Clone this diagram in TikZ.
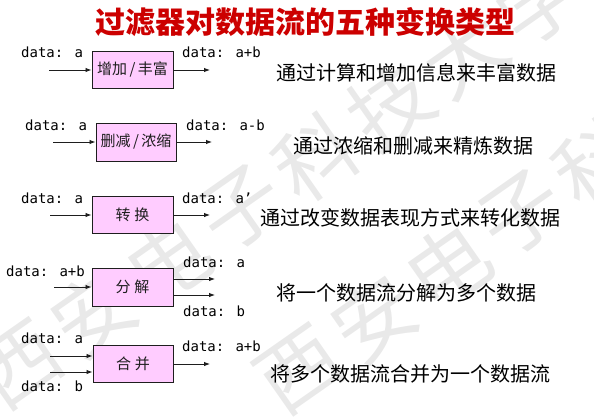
\documentclass[tikz,border=0pt]{standalone}
\usepackage{fontspec}
\setmainfont{Noto Sans CJK SC}
\newfontfamily\cjk{Noto Sans CJK SC}
\newfontfamily\monofont{DejaVu Sans Mono}
\usetikzlibrary{arrows.meta}
\definecolor{titlered}{RGB}{204,0,0}
\definecolor{boxpink}{RGB}{255,204,255}
\definecolor{wmgray}{RGB}{233,233,233}
\definecolor{ink}{RGB}{30,30,30}

\begin{document}
\begin{tikzpicture}[x=1pt,y=-1pt,
  filterbox/.style={draw=ink, line width=1pt, fill=boxpink,
    minimum width=81pt, minimum height=37pt, inner sep=0pt,
    font=\cjk\fontsize{15}{16}\selectfont, text=ink},
  flow/.style={draw=ink, line width=0.9pt, -{Latex[length=6pt,width=4.5pt]}},
  datalbl/.style={anchor=base west, inner sep=0pt,
    font=\monofont\fontsize{14}{16}\selectfont, text=black},
  note/.style={inner sep=0pt, font=\cjk\fontsize{20}{24}\selectfont, text=black},
  wm/.style={text=wmgray, rotate=35, inner sep=0pt,
    font=\cjk\fontsize{82}{90}\selectfont}]

\useasboundingbox (0,0) rectangle (594,416);
\clip (0,0) rectangle (594,416);

% watermark, tiled twice along a diagonal
\foreach \c [count=\i from 0] in {西,安,电,子,科,技,大,学}{
  \node[wm] (wma\i) at ({20+74*\i},{365-52*\i}) {\c};
  \node[wm] (wmb\i) at ({300+74*\i},{370-52*\i}) {\c};
}

% title
\node[inner sep=0pt, text=titlered, font=\cjk\bfseries\fontsize{30}{34}\selectfont]
  (title) at (305,22) {过滤器对数据流的五种变换类型};

% 1: enrich
\node[filterbox] (b1) at (132.5,69.5) {增加\,/\,丰富};
\coordinate (i1) at (49,70);
\coordinate (o1) at (210,70);
\draw[flow] (i1) -- (i1 -| b1.west);
\draw[flow] (o1 -| b1.east) -- (o1);
\node[datalbl] (l1a) at (21,57) {data: a};
\node[datalbl] (l1b) at (182,57) {data: a+b};
\node[note] (n1) at (416,73) {通过计算和增加信息来丰富数据};

% 2: reduce
\node[filterbox, minimum width=80pt, minimum height=38pt] (b2) at (136,142) {删减\,/\,浓缩};
\coordinate (i2) at (53,142);
\coordinate (o2) at (212,142);
\draw[flow] (i2) -- (i2 -| b2.west);
\draw[flow] (o2 -| b2.east) -- (o2);
\node[datalbl] (l2a) at (25,130) {data: a};
\node[datalbl] (l2b) at (186,130) {data: a-b};
\node[note] (n2) at (413,146) {通过浓缩和删减来精炼数据};

% 3: transform
\node[filterbox] (b3) at (132.5,214.5) {转\hspace{4pt}换};
\coordinate (i3) at (50,215);
\coordinate (o3) at (210,215);
\draw[flow] (i3) -- (i3 -| b3.west);
\draw[flow] (o3 -| b3.east) -- (o3);
\node[datalbl] (l3a) at (21,203) {data: a};
\node[datalbl] (l3b) at (182,203) {data: a’};
\node[note] (n3) at (410,218) {通过改变数据表现方式来转化数据};

% 4: split
\node[filterbox, minimum height=38pt] (b4) at (132.5,287) {分\hspace{4pt}解};
\coordinate (i4) at (54,287);
\coordinate (o4a) at (215,279);
\coordinate (o4b) at (215,295);
\draw[flow] (i4) -- (i4 -| b4.west);
\draw[flow] (o4a -| b4.east) -- (o4a);
\draw[flow] (o4b -| b4.east) -- (o4b);
\node[datalbl] (l4a) at (6,276) {data: a+b};
\node[datalbl] (l4b) at (183,267) {data: a};
\node[datalbl] (l4c) at (183,316) {data: b};
\node[note] (n4) at (406,293) {将一个数据流分解为多个数据};

% 5: merge
\node[filterbox, minimum width=80pt] (b5) at (133,363.5) {合\hspace{4pt}并};
\coordinate (i5a) at (50,356);
\coordinate (i5b) at (50,372);
\coordinate (o5) at (210,364);
\draw[flow] (i5a) -- (i5a -| b5.west);
\draw[flow] (i5b) -- (i5b -| b5.west);
\draw[flow] (o5 -| b5.east) -- (o5);
\node[datalbl] (l5a) at (21,343) {data: a};
\node[datalbl] (l5b) at (21,391) {data: b};
\node[datalbl] (l5c) at (182,351) {data: a+b};
\node[note] (n5) at (410,374) {将多个数据流合并为一个数据流};
\end{tikzpicture}
\end{document}
